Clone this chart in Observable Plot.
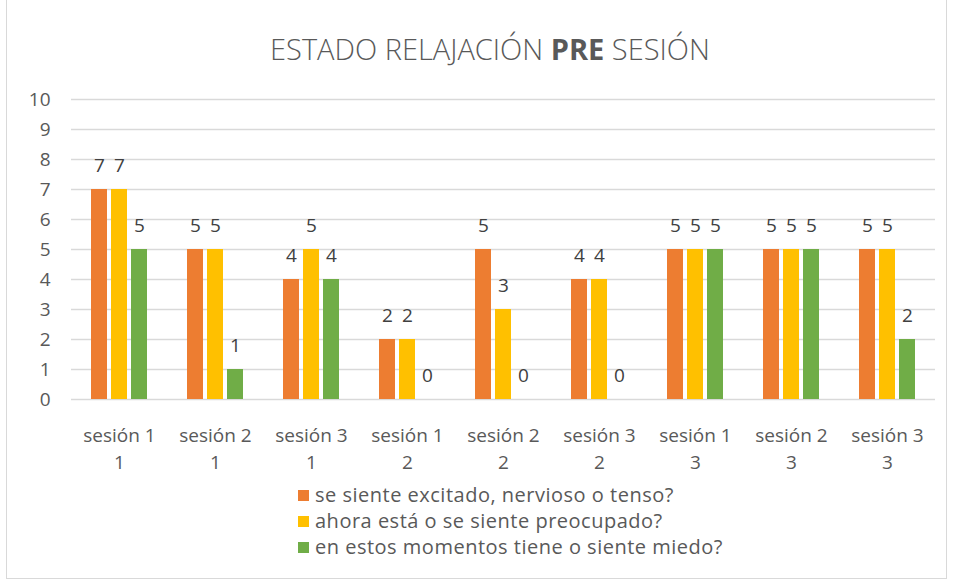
<!DOCTYPE html>
<html>
<head>
<meta charset="utf-8">
<script src="https://cdn.jsdelivr.net/npm/d3@7"></script>
<script src="https://cdn.jsdelivr.net/npm/@observablehq/plot@0.6"></script>
<style>
  body { margin: 0; background: #fff; font-family: "Open Sans", sans-serif; color: #595959; }
  #frame { position: absolute; left: 6px; top: -1px; width: 941px; height: 580px; border: 1px solid #d9d9d9; box-sizing: border-box; }
  #title { position: absolute; left: 0; width: 980px; top: 29px; line-height: 40px; text-align: center; font-size: 29px; font-weight: 300; color: #595959; }
  #title b { font-weight: 700; }
  #chart { position: absolute; left: 0; top: 85px; }
  #legend { position: absolute; left: 298px; top: 482px; font-size: 20px; line-height: 26px; letter-spacing: 0.5px; color: #595959; }
  .item { display: flex; align-items: center; white-space: nowrap; }
  .sw { width: 11px; height: 11px; margin-right: 6px; display: inline-block; }
</style>
</head>
<body>
<div id="frame"></div>
<div id="title">ESTADO RELAJACIÓN <b>PRE</b> SESIÓN</div>
<div id="chart"></div>
<div id="legend"></div>
<script>
const categories = ["sesión 1\n1", "sesión 2\n1", "sesión 3\n1", "sesión 1\n2", "sesión 2\n2", "sesión 3\n2", "sesión 1\n3", "sesión 2\n3", "sesión 3\n3"];
const seriesNames = ["se siente excitado, nervioso o tenso?", "ahora está o se siente preocupado?", "en estos momentos tiene o siente miedo?"];
const excitado = [7, 5, 4, 2, 5, 4, 5, 5, 5];
const preocupado = [7, 5, 5, 2, 3, 4, 5, 5, 5];
const miedo = [5, 1, 4, 0, 0, 0, 5, 5, 2];
const yTicks = [0, 1, 2, 3, 4, 5, 6, 7, 8, 9, 10];
const colors = ["#ED7D31", "#FFC000", "#70AD47"];

const seriesValues = [excitado, preocupado, miedo];
const data = [];
categories.forEach((c, i) => {
  seriesNames.forEach((s, j) => data.push({cat: c, series: s, value: seriesValues[j][i]}));
});

const chart = Plot.plot({
  width: 955,
  height: 394,
  marginLeft: 68,
  marginRight: 17,
  marginTop: 14,
  marginBottom: 80,
  style: {fontFamily: "Open Sans, sans-serif", color: "#595959", background: "transparent", overflow: "visible"},
  fx: {domain: categories, padding: 0, label: null},
  x: {domain: seriesNames, axis: null, paddingInner: 0.19, paddingOuter: 0.9},
  y: {domain: [0, 10], label: null},
  color: {domain: seriesNames, range: colors},
  marks: [
    Plot.gridY(yTicks, {stroke: "#d9d9d9", strokeOpacity: 1, strokeWidth: 1.5}),
    Plot.axisY(yTicks, {tickSize: 0, tickPadding: 21, fontSize: 19, fill: "#595959", label: null}),
    Plot.axisFx({anchor: "bottom", tickSize: 0, tickPadding: 24, fontSize: 19, lineHeight: 1.4, fill: "#595959", label: null}),
    Plot.barY(data, {fx: "cat", x: "series", y: "value", fill: "series"}),
    Plot.text(data, {fx: "cat", x: "series", y: "value", text: d => String(d.value), dy: -24, fontSize: 19, fill: "#404040"})
  ]
});
document.getElementById("chart").appendChild(chart);

const legend = document.getElementById("legend");
seriesNames.forEach((s, i) => {
  const row = document.createElement("div");
  row.className = "item";
  const sw = document.createElement("span");
  sw.className = "sw";
  sw.style.background = colors[i];
  row.appendChild(sw);
  row.appendChild(document.createTextNode(s));
  legend.appendChild(row);
});
</script>
</body>
</html>
